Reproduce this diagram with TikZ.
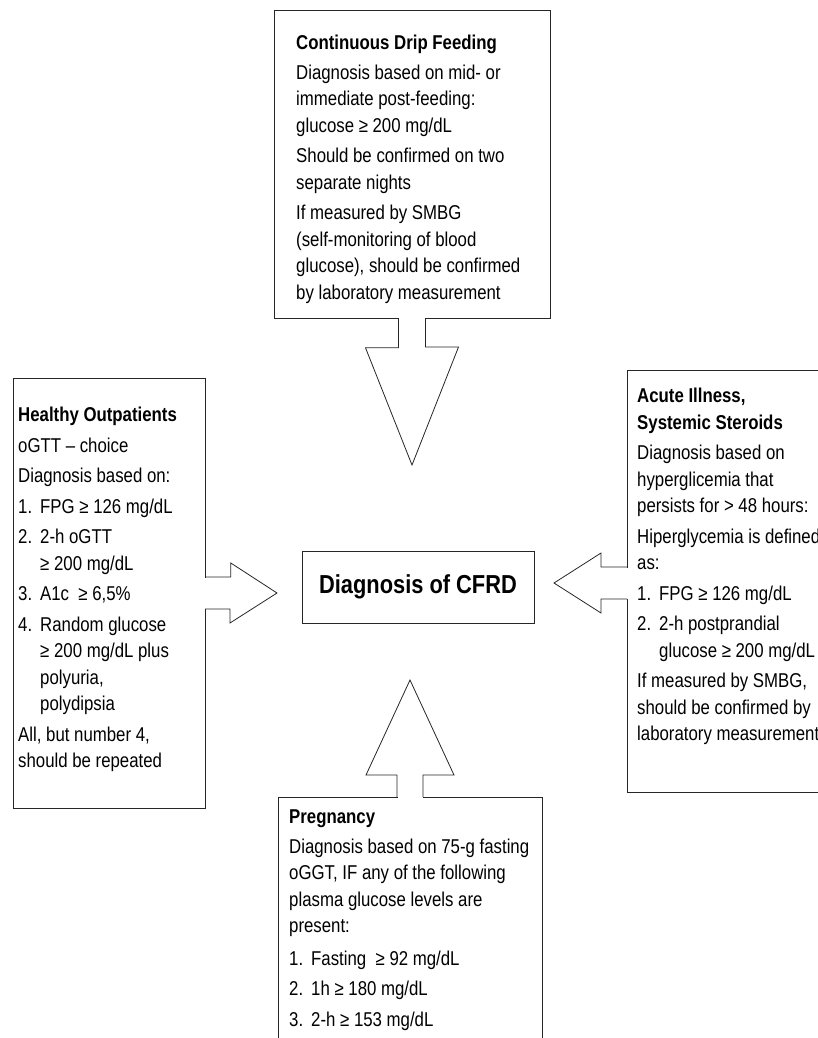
\documentclass[tikz,border=0pt]{standalone}
\usepackage{fontspec}
\setmainfont{Liberation Sans}[FakeStretch=0.84]
\usetikzlibrary{calc}

\newcommand{\numitem}[1]{\makebox[22pt][l]{#1}}

\begin{document}
\begin{tikzpicture}[x=1pt,y=-1pt,
    box/.style={draw=black!85, line width=0.8pt, fill=white, inner sep=0pt, anchor=north west},
    blockarrow/.style={draw=black!85, line width=0.8pt, line join=miter},
    txt/.style={anchor=north west, inner sep=0pt, align=left, font=\fontsize{20}{26.5}\selectfont}]
    \clip (0,0) rectangle (818,1038);

    % boxes
    \node[box, minimum width=276pt, minimum height=308pt] (drip) at (274,10) {};
    \node[box, minimum width=192pt, minimum height=430pt] (healthy) at (13,378) {};
    \node[box, minimum width=210pt, minimum height=422pt] (acute) at (627,370) {};
    \node[box, minimum width=264pt, minimum height=270pt] (preg) at (278,797) {};
    \node[box, anchor=center, minimum width=232pt, minimum height=72pt,
          font=\fontsize{26}{30}\selectfont\bfseries] (cfrd) at (418,587) {Diagnosis of CFRD};

    % arrow tips
    \coordinate (driptip) at (412,465);
    \coordinate (healthytip) at (277,593);
    \coordinate (acutetip) at (554,583);
    \coordinate (pregtip) at (410,680);

    % open the box borders where the arrows leave
    \fill[white] ($(driptip |- drip.south)+(-13,-1)$) rectangle ($(driptip |- drip.south)+(13,1)$);
    \fill[white] ($(healthy.east |- healthytip)+(-1,-15.5)$) rectangle ($(healthy.east |- healthytip)+(1,15.5)$);
    \fill[white] ($(acute.west |- acutetip)+(-1,-15.5)$) rectangle ($(acute.west |- acutetip)+(1,15.5)$);
    \fill[white] ($(pregtip |- preg.north)+(-12.5,-1)$) rectangle ($(pregtip |- preg.north)+(12.5,1)$);

    \draw[blockarrow] ($(driptip |- drip.south)+(-13.5,0)$) -- ++(0,29) -- ++(-33,0) -- (driptip)
        -- ++(46.5,-118) -- ++(-33,0) -- ++(0,-29);
    \draw[blockarrow] ($(healthy.east |- healthytip)+(0,-16)$) -- ++(25,0) -- ++(0,-14) -- (healthytip)
        -- ++(-47,30) -- ++(0,-14) -- ++(-25,0);
    \draw[blockarrow] ($(acute.west |- acutetip)+(0,-16)$) -- ++(-26,0) -- ++(0,-14) -- (acutetip)
        -- ++(47,30) -- ++(0,-14) -- ++(26,0);
    \draw[blockarrow] ($(pregtip |- preg.north)+(-13,0)$) -- ++(0,-22) -- ++(-31,0) -- (pregtip)
        -- ++(44,95) -- ++(-31,0) -- ++(0,22);

    % texts
    \node[txt] (driptext) at (296,35) {\textbf{Continuous Drip Feeding}\\[3pt]
        Diagnosis based on mid- or\\
        immediate post-feeding:\\
        glucose ≥ 200 mg/dL\\[4pt]
        Should be confirmed on two\\
        separate nights\\[4pt]
        If measured by SMBG\\
        (self-monitoring of blood\\
        glucose), should be confirmed\\
        by laboratory measurement};

    \node[txt] (healthytext) at (18,407) {\textbf{Healthy Outpatients}\\[4pt]
        oGTT – choice\\[4pt]
        Diagnosis based on:\\[4pt]
        \numitem{1.}FPG ≥ 126 mg/dL\\[4pt]
        \numitem{2.}2-h oGTT\\
        \numitem{}≥ 200 mg/dL\\[4pt]
        \numitem{3.}A1c\ \ ≥ 6,5\%\\[4pt]
        \numitem{4.}Random glucose\\
        \numitem{}≥ 200 mg/dL plus\\
        \numitem{}polyuria,\\
        \numitem{}polydipsia\\[4pt]
        All, but number 4,\\
        should be repeated};

    \node[txt] (acutetext) at (637,388) {\textbf{Acute Illness,}\\
        \textbf{Systemic Steroids}\\[4pt]
        Diagnosis based on\\
        hyperglicemia that\\
        persists for > 48 hours:\\[4pt]
        Hiperglycemia is defined\\
        as:\\[4pt]
        \numitem{1.}FPG ≥ 126 mg/dL\\[4pt]
        \numitem{2.}2-h postprandial\\
        \numitem{}glucose ≥ 200 mg/dL\\[4pt]
        If measured by SMBG,\\
        should be confirmed by\\
        laboratory measurement};

    \node[txt] (pregtext) at (289,810) {\textbf{Pregnancy}\\[3pt]
        Diagnosis based on 75-g fasting\\
        oGGT, IF any of the following\\
        plasma glucose levels are\\
        present:\\[6pt]
        \numitem{1.}Fasting\ \ ≥ 92 mg/dL\\[4pt]
        \numitem{2.}1h ≥ 180 mg/dL\\[4pt]
        \numitem{3.}2-h ≥ 153 mg/dL};
\end{tikzpicture}
\end{document}
